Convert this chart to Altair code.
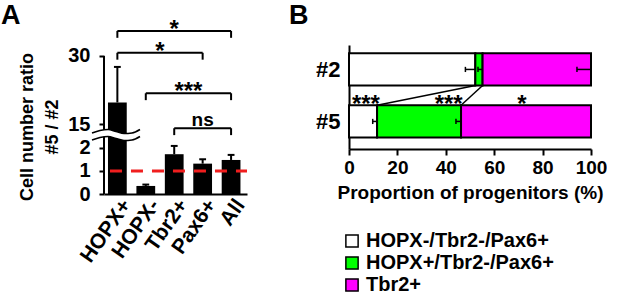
import altair as alt
import pandas as pd

FONT = "Liberation Sans"

# ---------------- Panel A data ----------------
cats_a = ["HOPX+", "HOPX-", "Tbr2+", "Pax6+", "All"]
ratio_mean = [19.8, 0.35, 1.73, 1.32, 1.48]
ratio_err = [7.8, 0.06, 0.36, 0.19, 0.22]
y_ticks_a = [0, 1, 2, 15, 30]
ref_level = 1
y_title_a = ["Cell number ratio", "#5 / #2"]

br_from = ["HOPX+", "HOPX+", "HOPX-", "Tbr2+"]
br_to = ["All", "Pax6+", "All", "All"]
br_text = ["*", "*", "***", "ns"]

# ---------------- Panel B data ----------------
rows_b = ["#2", "#5"]
groups_b = ["HOPX-/Tbr2-/Pax6+", "HOPX+/Tbr2-/Pax6+", "Tbr2+"]
colors_b = ["#ffffff", "#00ff00", "#ff00ff"]
share_2 = [52.2, 3.0, 44.8]
share_5 = [11.6, 34.7, 53.7]
err_2 = [4.1, 1.9, 5.8]
err_5 = [1.8, 2.1, 0.0]
stars_b = ["***", "***", "*"]
stars_b_x = [7.0, 41.2, 71.5]

# ---------------- broken-axis mapping ----------------
LOW_MAX = 2.5
UP_BASE = 3.03      # display position of 15
UP_SLOPE = 0.198    # display units per real unit above the break


def disp(v):
    return v if v <= LOW_MAX else UP_BASE + (v - 15) * UP_SLOPE


pos_a = list(range(len(cats_a)))
half_w = 0.33
dfA = pd.DataFrame({"cat": cats_a, "pos": pos_a, "mean": ratio_mean, "err": ratio_err})
dfA["x1"] = dfA["pos"] - half_w
dfA["x2"] = dfA["pos"] + half_w
dfA["y0"] = 0.0
dfA["ytop"] = [disp(m) for m in ratio_mean]
dfA["yerr"] = [disp(m + e) for m, e in zip(ratio_mean, ratio_err)]
dfA["c1"] = dfA["pos"] - 0.12
dfA["c2"] = dfA["pos"] + 0.12

XDOM_A = [-0.47, 4.56]
YDOM_A = [0, 6.478]
xA = alt.Scale(domain=XDOM_A, nice=False, zero=False)
yA = alt.Scale(domain=YDOM_A, nice=False, zero=False)

tick_disp = [disp(t) for t in y_ticks_a]
lab_expr = "''"
for d, t in zip(tick_disp[::-1], y_ticks_a[::-1]):
    lab_expr = f"abs(datum.value - {d}) < 0.01 ? '{t}' : ({lab_expr})"

cat_list = "[" + ",".join(f"'{c}'" for c in cats_a) + "]"

axA_x = alt.Axis(values=pos_a, labelExpr=f"{cat_list}[datum.value]", title=None,
                 ticks=False, grid=False, domainWidth=2, domainColor="black",
                 labelAngle=-55, labelAlign="right", labelBaseline="top",
                 labelFontSize=21, labelFontWeight="bold", labelFont=FONT,
                 labelColor="black", labelPadding=1, labelOverlap=False)
axA_y = alt.Axis(values=tick_disp, labelExpr=lab_expr, domain=False, grid=False,
                 tickSize=5, tickWidth=2, tickColor="black",
                 labelFontSize=20, labelFontWeight="bold", labelFont=FONT,
                 labelColor="black", labelPadding=9, labelOverlap=False, title=None)


def XA(f):
    return alt.X(f, scale=xA, axis=axA_x)


def YA(f):
    return alt.Y(f, scale=yA, axis=axA_y)


baseA = alt.Chart(dfA)

bars = baseA.mark_bar(color="black").encode(x=XA("x1:Q"), x2="x2:Q", y=YA("y0:Q"), y2="ytop:Q")

axis_line = alt.Chart(pd.DataFrame({"x": [XDOM_A[0]], "y1": [0.0], "y2": [disp(y_ticks_a[-1])]})).mark_rule(
    color="black", strokeWidth=2).encode(x=XA("x:Q"), y=YA("y1:Q"), y2="y2:Q")

err_line = baseA.mark_rule(color="black", strokeWidth=2).encode(x=XA("pos:Q"), y=YA("ytop:Q"), y2="yerr:Q")
err_cap = baseA.mark_rule(color="black", strokeWidth=2).encode(x=XA("c1:Q"), x2="c2:Q", y=YA("yerr:Q"))

ref = alt.Chart(pd.DataFrame({"y": [ref_level], "xa": [-0.26], "xb": [XDOM_A[1]]})).mark_rule(
    color="#f01e1e", strokeWidth=3, strokeDash=[12, 9]).encode(x=XA("xa:Q"), x2="xb:Q", y=YA("y:Q"))

# break symbol (decoration)
brk_x = [-0.892, -0.611, -0.329, -0.048, 0.233, 0.515, 0.796]
brk_up = [2.652, 2.761, 2.804, 2.717, 2.630, 2.652, 2.804]
brk_lo = [2.348, 2.457, 2.500, 2.413, 2.326, 2.348, 2.500]
dfBrk = pd.DataFrame({"x": brk_x, "up": brk_up, "lo": brk_lo})
brk_fill = alt.Chart(dfBrk).mark_area(color="white", interpolate="monotone").encode(
    x=XA("x:Q"), y=YA("lo:Q"), y2="up:Q")
dfBrkL = pd.concat([
    pd.DataFrame({"x": brk_x, "y": brk_up, "k": "u"}),
    pd.DataFrame({"x": brk_x, "y": brk_lo, "k": "l"})])
brk_lines = alt.Chart(dfBrkL).mark_line(color="black", strokeWidth=1.6, interpolate="monotone").encode(
    x=XA("x:Q"), y=YA("y:Q"), detail="k:N")

# significance brackets
br_level = [7.09, 6.14, 4.38, 2.86]
br_drop = 0.3
pmap = {c: p for c, p in zip(cats_a, pos_a)}
dfBr = pd.DataFrame({"a": [pmap[c] for c in br_from], "b": [pmap[c] for c in br_to],
                     "lev": br_level, "txt": br_text})
dfBr["low"] = dfBr["lev"] - br_drop
dfBr["mid"] = (dfBr["a"] + dfBr["b"]) / 2
br_h = alt.Chart(dfBr).mark_rule(color="black", strokeWidth=2).encode(x=XA("a:Q"), x2="b:Q", y=YA("lev:Q"))
br_va = alt.Chart(dfBr).mark_rule(color="black", strokeWidth=2).encode(x=XA("a:Q"), y=YA("lev:Q"), y2="low:Q")
br_vb = alt.Chart(dfBr).mark_rule(color="black", strokeWidth=2).encode(x=XA("b:Q"), y=YA("lev:Q"), y2="low:Q")
br_star = alt.Chart(dfBr[dfBr["txt"] != "ns"]).mark_text(
    font=FONT, fontWeight="bold", fontSize=24, baseline="alphabetic", dy=6, color="black").encode(
    x=XA("mid:Q"), y=YA("lev:Q"), text="txt:N")
br_ns = alt.Chart(dfBr[dfBr["txt"] == "ns"]).mark_text(
    font=FONT, fontWeight="bold", fontSize=19, baseline="alphabetic", dy=-2, color="black").encode(
    x=XA("mid:Q"), y=YA("lev:Q"), text="txt:N")

# y-axis title (two rotated lines)
ttlA1 = alt.Chart(pd.DataFrame({"t": [y_title_a[0]]})).mark_text(
    font=FONT, fontWeight="bold", fontSize=18, angle=270, baseline="middle", align="center",
    color="black").encode(text="t:N", x=alt.value(-76), y=alt.value(82))
ttlA2 = alt.Chart(pd.DataFrame({"t": [y_title_a[1]]})).mark_text(
    font=FONT, fontWeight="bold", fontSize=18, angle=270, baseline="middle", align="center",
    color="black").encode(text="t:N", x=alt.value(-51), y=alt.value(82))

labA = alt.Chart(pd.DataFrame({"t": ["A"]})).mark_text(
    font=FONT, fontWeight="bold", fontSize=27, baseline="top", align="left", color="black").encode(
    text="t:N", x=alt.value(-103), y=alt.value(-42))

panelA = alt.layer(bars, axis_line, err_line, err_cap, ref, brk_fill, brk_lines,
                   br_h, br_va, br_vb, br_star, br_ns, ttlA1, ttlA2, labA).properties(width=143, height=149)

# ---------------- Panel B ----------------
pos_b = [1.5, 0.5]
half_h = 0.31
recs = []
for r, p, shares, errs in zip(rows_b, pos_b, [share_2, share_5], [err_2, err_5]):
    start = 0.0
    for g, s, e in zip(groups_b, shares, errs):
        recs.append({"row": r, "pos": p, "group": g, "start": start, "end": start + s, "err": e})
        start += s
dfB = pd.DataFrame(recs)
dfB["ylo"] = dfB["pos"] - half_h
dfB["yhi"] = dfB["pos"] + half_h
dfB["estart"] = dfB["end"] - dfB["err"]
dfB["clo"] = dfB["pos"] - 0.05
dfB["chi"] = dfB["pos"] + 0.05

xB = alt.Scale(domain=[0, 100], nice=False, zero=False)
yB = alt.Scale(domain=[-0.03, 1.97], nice=False, zero=False)

axB_x = alt.Axis(values=[0, 20, 40, 60, 80, 100], grid=False, tickSize=6, tickWidth=2,
                 tickColor="black", domainWidth=2, domainColor="black",
                 labelFontSize=19, labelFontWeight="bold", labelFont=FONT, labelColor="black",
                 labelPadding=3, labelFlush=False, labelOverlap=False,
                 title="Proportion of progenitors (%)", titleFontSize=19,
                 titleFontWeight="bold", titleFont=FONT, titleColor="black", titlePadding=6)
axB_y = alt.Axis(values=pos_b, labelExpr="datum.value > 1 ? '#2' : '#5'", grid=False,
                 ticks=False, domainWidth=2, domainColor="black",
                 labelFontSize=22, labelFontWeight="bold", labelFont=FONT, labelColor="black",
                 labelPadding=9, title=None)


def XB(f):
    return alt.X(f, scale=xB, axis=axB_x)


def YB(f):
    return alt.Y(f, scale=yB, axis=axB_y)


legB = alt.Legend(title=None, orient="none", legendX=238, legendY=186,
                  symbolType="square", symbolSize=150, symbolStrokeColor="black",
                  symbolStrokeWidth=1.5, labelFontSize=20, labelFontWeight="bold",
                  labelFont=FONT, labelColor="black", rowPadding=2, labelOffset=4,
                  labelLimit=400)

barsB = alt.Chart(dfB).mark_bar(stroke="black", strokeWidth=2).encode(
    x=XB("start:Q"), x2="end:Q", y=YB("ylo:Q"), y2="yhi:Q",
    color=alt.Color("group:N", scale=alt.Scale(domain=groups_b, range=colors_b),
                    sort=groups_b, legend=legB))

dfE = dfB[dfB["err"] > 0]
errB = alt.Chart(dfE).mark_rule(color="black", strokeWidth=1.5).encode(
    x=XB("estart:Q"), x2="end:Q", y=YB("pos:Q"))
capB = alt.Chart(dfE).mark_rule(color="black", strokeWidth=1.5).encode(
    x=XB("estart:Q"), y=YB("clo:Q"), y2="chi:Q")

end2 = dfB[dfB["row"] == rows_b[0]]["end"].tolist()
end5 = dfB[dfB["row"] == rows_b[1]]["end"].tolist()
dfC = pd.DataFrame({"xa": end2[:2], "xb": end5[:2],
                    "ya": [pos_b[0] - half_h] * 2, "yb": [pos_b[1] + half_h] * 2})
conn = alt.Chart(dfC).mark_rule(color="black", strokeWidth=1.5).encode(
    x=XB("xa:Q"), x2="xb:Q", y=YB("ya:Q"), y2="yb:Q")

dfS = pd.DataFrame({"t": stars_b, "x": stars_b_x, "y": [pos_b[1] + half_h] * 3})
starsB = alt.Chart(dfS).mark_text(font=FONT, fontWeight="bold", fontSize=24,
                                  baseline="alphabetic", dy=6.6, color="black").encode(
    x=XB("x:Q"), y=YB("y:Q"), text="t:N")

labB = alt.Chart(pd.DataFrame({"t": ["B"]})).mark_text(
    font=FONT, fontWeight="bold", fontSize=27, baseline="top", align="left", color="black").encode(
    text="t:N", x=alt.value(-60), y=alt.value(-42))

panelB = alt.layer(barsB, errB, capB, conn, starsB, labB).properties(width=242, height=104)

chart = alt.hconcat(panelA, panelB, spacing=40).configure_view(stroke=None).properties(
    padding={"left": 1, "top": 2, "right": 0, "bottom": 0})

chart.save("out.html", embed_options={"renderer": "svg", "actions": False})
